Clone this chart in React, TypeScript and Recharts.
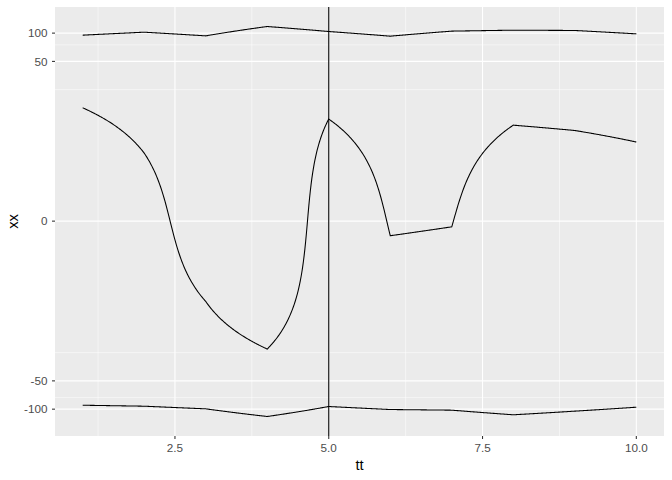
import { LineChart, Line, XAxis, YAxis, CartesianGrid, ReferenceLine } from 'recharts'

// values (y axis uses a pseudo-log transform)
const tt = [1, 2, 3, 4, 5, 6, 7, 8, 9, 10]
const upper = [95.1, 102.3, 93.5, 117.6, 104, 92.8, 105, 107.5, 106.7, 98.2]
const middle = [16.0, 5.1, -7.0, -22.9, 12.1, -0.73, -0.28, 10.4, 9.1, 6.8]
const lower = [-90.8, -93, -99.2, -119.7, -93.7, -100.9, -102.5, -114.8, -105, -95.3]
const yBreaks = [-100, -50, 0, 50, 100]
const yMinor = [-75, -25, 25, 75]
const xBreaks = [2.5, 5, 7.5, 10]
const xMinor = [1.25, 3.75, 6.25, 8.75]
const vlineAt = 5

const W = 672
const H = 480
const TOP = 7
const BOTTOM_AXIS = 44
const PLOT_H = H - TOP - BOTTOM_AXIS

// pseudo_log (sigma = 1)
const fwd = (v: number) => Math.asinh(v / 2)
const inv = (t: number) => 2 * Math.sinh(t)

const all = [...upper, ...middle, ...lower]
const tLo = fwd(Math.min(...all))
const tHi = fwd(Math.max(...all))
const tPad = (tHi - tLo) * 0.05
const tMin = tLo - tPad
const tMax = tHi + tPad
const xPad = (tt[tt.length - 1] - tt[0]) * 0.05
const xDomain = [tt[0] - xPad, tt[tt.length - 1] + xPad]

const data = tt.map((t, i) => ({ tt: t, upper: upper[i], middle: middle[i], lower: lower[i] }))

// coord_trans style: straight segments in data space become curves on screen
const pxToVal = (py: number) => inv(tMax - ((py - TOP) / PLOT_H) * (tMax - tMin))
const valToPx = (v: number) => TOP + ((tMax - fwd(v)) / (tMax - tMin)) * PLOT_H

function transCurve(context: any) {
  let prev: [number, number] | null = null
  const N = 80
  return {
    areaStart() {},
    areaEnd() {},
    lineStart() {
      prev = null
    },
    lineEnd() {},
    point(x: number, y: number) {
      x = +x
      y = +y
      if (!prev) {
        context.moveTo(x, y)
      } else {
        const v0 = pxToVal(prev[1])
        const v1 = pxToVal(y)
        for (let i = 1; i <= N; i++) {
          const f = i / N
          context.lineTo(prev[0] + (x - prev[0]) * f, valToPx(v0 + (v1 - v0) * f))
        }
      }
      prev = [x, y]
    },
  }
}

const font = '"Liberation Sans", Arial, Helvetica, sans-serif'
const tickStyle = { fill: '#4D4D4D', fontSize: 11.7, fontFamily: font }

export default function App() {
  return (
    <div style={{ position: 'absolute', left: 0, top: 0, width: W, height: H, background: '#fff' }}>
      <LineChart width={W} height={H} data={data} margin={{ top: TOP, right: 8, bottom: 0, left: 0 }}>
        <CartesianGrid
          fill="#EBEBEB"
          stroke="#FFFFFF"
          strokeWidth={0.53}
          horizontalValues={yMinor.map(fwd)}
          verticalValues={xMinor}
        />
        <CartesianGrid
          stroke="#FFFFFF"
          strokeWidth={1.07}
          horizontalValues={yBreaks.map(fwd)}
          verticalValues={xBreaks}
        />
        <XAxis
          dataKey="tt"
          type="number"
          domain={xDomain}
          allowDataOverflow
          ticks={xBreaks}
          tickFormatter={(v: number) => v.toFixed(1)}
          height={BOTTOM_AXIS}
          axisLine={false}
          tickLine={{ stroke: '#333333', strokeWidth: 1.07 }}
          tickSize={3}
          tickMargin={5}
          tick={tickStyle}
          label={{ value: 'tt', position: 'insideBottom', offset: 10, fill: '#000', fontSize: 14.7, fontFamily: font }}
        />
        <YAxis
          type="number"
          domain={[tMin, tMax]}
          allowDataOverflow
          ticks={yBreaks.map(fwd)}
          tickFormatter={(t: number) => String(Math.round(inv(t)))}
          width={55}
          axisLine={false}
          tickLine={{ stroke: '#333333', strokeWidth: 1.07 }}
          tickSize={3}
          tickMargin={4.5}
          tick={tickStyle}
          label={{
            content: () => (
              <text
                x={18}
                y={221.5}
                transform="rotate(-90, 18, 221.5)"
                textAnchor="middle"
                fill="#000"
                fontSize={14.7}
                fontFamily={font}
              >
                xx
              </text>
            ),
          }}
        />
        <Line
          dataKey={(d: any) => fwd(d.upper)}
          type={transCurve as any}
          stroke="#000"
          strokeWidth={1.07}
          dot={false}
          isAnimationActive={false}
        />
        <Line
          dataKey={(d: any) => fwd(d.middle)}
          type={transCurve as any}
          stroke="#000"
          strokeWidth={1.07}
          dot={false}
          isAnimationActive={false}
        />
        <Line
          dataKey={(d: any) => fwd(d.lower)}
          type={transCurve as any}
          stroke="#000"
          strokeWidth={1.07}
          dot={false}
          isAnimationActive={false}
        />
        <ReferenceLine x={vlineAt} stroke="#000" strokeWidth={1.07} />
      </LineChart>
    </div>
  )
}
